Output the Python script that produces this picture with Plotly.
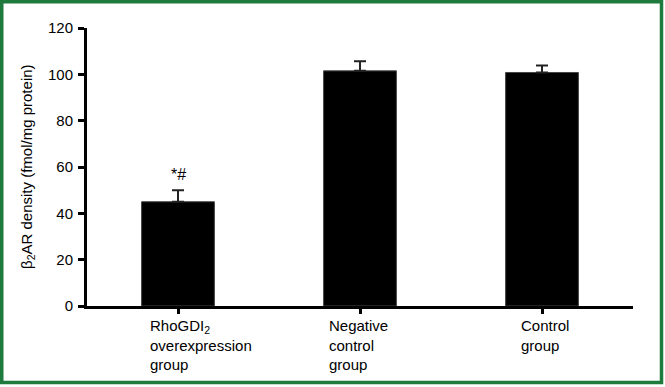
import plotly.graph_objects as go

categories = ["RhoGDI<sub>2</sub><br>overexpression<br>group", "Negative<br>control<br>group", "Control<br>group"]
values = [45.0, 101.5, 100.8]
errors = [5.0, 4.2, 3.0]
sig_labels = ["*#", "", ""]
y_ticks = [0, 20, 40, 60, 80, 100, 120]
y_title = "β<sub>2</sub>AR density (fmol/mg protein)"

W, H = 665, 387
L, R, T, B = 87, 32, 28, 81
pw, ph = W - L - R, H - T - B

def px(x):
    return (x - L) / pw

def py(y):
    return (H - B - y) / ph

font = dict(family="Liberation Sans, Arial, sans-serif", size=15, color="black")
green = "#1f7a3d"

fig = go.Figure()
fig.add_trace(go.Bar(
    x=[0, 1, 2], y=values,
    marker=dict(color="black", line=dict(color="#444", width=1)),
    width=0.4,
    error_y=dict(type="data", array=errors, arrayminus=[0, 0, 0], symmetric=False,
                 color="#222", thickness=2, width=6),
    showlegend=False,
))

annotations = []
label_shift = [-30, -33, -23]
for i, (c, v, e, s) in enumerate(zip(categories, values, errors, sig_labels)):
    annotations.append(dict(x=i, y=0, xref="x", yref="paper", text=c, showarrow=False,
                            xanchor="left", yanchor="top", align="left",
                            xshift=label_shift[i], yshift=-9, font=font))
    if s:
        annotations.append(dict(x=i, y=v + e, xref="x", yref="y", text=s, showarrow=False,
                                xanchor="center", yanchor="bottom", yshift=5,
                                font=dict(font, size=16)))
annotations.append(dict(x=px(27), y=0.5, xref="paper", yref="paper", text=y_title,
                        textangle=-90, showarrow=False, xanchor="center", yanchor="middle",
                        font=font))

fig.update_layout(
    width=W, height=H,
    margin=dict(l=L, r=R, t=T, b=B, pad=0),
    paper_bgcolor="white", plot_bgcolor="white",
    font=font,
    annotations=annotations,
    shapes=[dict(type="rect", xref="paper", yref="paper",
                 x0=px(1.75), x1=px(661.5), y0=py(382.5), y1=py(1.75),
                 line=dict(color=green, width=3.5), layer="above")],
    xaxis=dict(range=[-0.5, 2.5], tickvals=[0, 1, 2], showticklabels=False,
               ticks="outside", tickson="boundaries", ticklen=5, tickwidth=2.5, tickcolor="black",
               showline=True, linecolor="black", linewidth=3, showgrid=False, zeroline=False,
               fixedrange=True),
    yaxis=dict(range=[0, 120], tickvals=y_ticks, ticks="outside", ticklen=6, tickwidth=2.5,
               tickcolor="black", showline=True, linecolor="black", linewidth=3,
               showgrid=False, zeroline=False, ticklabelstandoff=2, tickfont=font,
               fixedrange=True),
    bargap=0.6,
)

fig.write_html("out.html", config={"displayModeBar": False},
               post_script="document.body.style.margin='0';")
